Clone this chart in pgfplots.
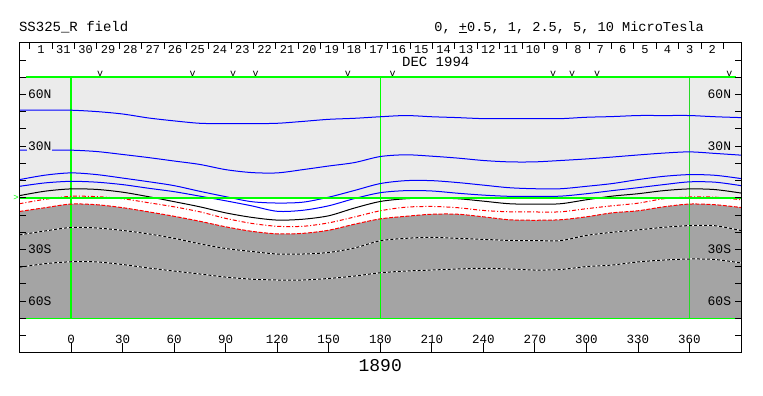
\documentclass[border=0pt]{standalone}
\usepackage{fontspec}
\setmainfont{Liberation Mono}
\usepackage{pgfplots}
\pgfplotsset{compat=1.18}
\usepackage{pgfplotstable}
\usepgfplotslibrary{fillbetween}
\definecolor{lgray}{HTML}{EBEBEB}
\definecolor{dgray}{HTML}{A4A4A4}
\definecolor{grn}{HTML}{00FF00}
\definecolor{blu}{HTML}{0000FF}
\definecolor{rd}{HTML}{FF0000}

\pgfplotstableread{
lon A B C D E F G H I
-30 50.8 27.6 10.5 6.6 1.2 -3.5 -8.0 -21.6 -40.4
-15 50.8 27.6 13.1 8.6 3.8 -0.9 -5.8 -19.3 -38.3
0 50.8 27.6 14.4 9.5 5.1 0.8 -3.7 -17.3 -37.2
15 50.0 26.8 13.4 9.0 4.8 0.6 -4.1 -17.6 -37.3
30 48.6 25.1 11.4 7.6 3.2 -0.6 -5.8 -19.0 -38.8
45 46.3 23.3 9.3 5.5 0.6 -2.9 -8.2 -21.0 -40.8
60 44.6 21.3 7.0 3.5 -2.3 -5.3 -10.8 -23.6 -42.6
75 43.2 19.3 3.7 0.9 -5.3 -8.2 -13.7 -26.8 -44.3
90 43.0 16.3 0.6 -1.8 -8.8 -12.0 -16.9 -29.5 -46.1
105 43.0 14.6 -2.3 -4.7 -11.4 -14.9 -19.5 -31.2 -47.3
120 43.2 14.4 -3.1 -7.9 -13.0 -16.6 -21.0 -32.7 -47.8
135 44.3 16.3 -2.6 -7.3 -12.5 -16.6 -20.7 -32.7 -47.8
150 45.5 18.4 0.3 -4.7 -10.5 -14.6 -18.9 -31.8 -46.9
165 46.1 20.4 4.2 -0.5 -6.0 -11.2 -15.4 -29.2 -45.5
180 47.0 23.9 8.2 2.9 -2.2 -7.6 -12.3 -25.0 -43.6
195 47.7 24.9 9.9 4.1 -0.6 -5.5 -10.8 -23.6 -42.6
210 47.0 24.1 9.9 3.9 -0.2 -5.1 -9.6 -23.0 -42.0
225 46.5 23.0 8.8 2.6 -0.6 -5.8 -9.6 -23.6 -41.4
240 45.9 21.6 7.3 1.5 -2.0 -7.4 -11.1 -24.2 -41.0
255 45.9 20.8 5.8 0.8 -3.5 -8.2 -12.8 -24.8 -41.4
270 45.9 20.8 5.2 0.8 -3.8 -8.3 -13.1 -24.9 -42.0
285 45.9 21.6 5.2 0.9 -3.5 -8.2 -12.8 -24.9 -41.7
300 46.7 22.5 6.6 2.3 -1.2 -6.4 -11.1 -21.9 -40.0
315 47.1 23.6 8.2 4.1 0.9 -4.7 -8.8 -20.1 -39.1
330 47.7 24.8 10.5 5.8 2.3 -3.2 -7.6 -18.7 -37.3
345 47.7 25.9 12.4 7.6 4.1 -0.6 -5.3 -17.2 -36.2
360 47.7 26.6 13.4 9.2 5.1 0.4 -3.7 -16.2 -35.6
375 47.0 25.7 13.0 9.0 4.7 0.3 -4.1 -16.3 -35.9
390 46.5 24.7 11.1 7.0 2.7 -1.2 -5.7 -19.1 -37.9
}\curves

\begin{document}
\begin{tikzpicture}
\begin{axis}[
  name=main,
  scale only axis, width=721.5pt, height=310pt,
  xmin=-30, xmax=390, ymin=-90, ymax=90,
  clip=false, axis on top,
  axis line style={line width=1pt},
  xtick={0,30,...,360}, xtick pos=left,
  ytick={-80,-70,...,80}, yticklabels={},
  tick align=inside,
  major tick length=6pt,
  xtick style={/pgfplots/major tick length=10pt, line width=0.8pt, black},
  ytick style={line width=0.8pt, black},
  /pgf/number format/assume math mode=true,
  xticklabel style={anchor=base, yshift=9.5pt, font=\fontsize{12.5}{14}\selectfont},
]
% backgrounds
\fill[lgray] (axis cs:-30,0) rectangle (axis cs:390,70);
\addplot[draw=none, smooth, name path=G] table[x=lon,y=G]{\curves};
\addplot[draw=none, name path=bot] coordinates {(-30,-70) (390,-70)};
\addplot[dgray] fill between[of=G and bot];

% green reference lines (vertical)
\addplot[grn, line width=1.2pt] coordinates {(0,-70) (0,70)};
\addplot[grn, line width=1.2pt] coordinates {(180,-70) (180,70)};
\addplot[grn!70!gray, line width=0.9pt] coordinates {(360,-70) (360,70)};

% contours
\addplot[blu, line width=1pt, smooth] table[x=lon,y=A]{\curves};
\addplot[blu, line width=1pt, smooth] table[x=lon,y=B]{\curves};
\addplot[blu, line width=1pt, smooth] table[x=lon,y=C]{\curves};
\addplot[blu, line width=1pt, smooth] table[x=lon,y=D]{\curves};
\addplot[black, line width=1pt, smooth] table[x=lon,y=E]{\curves};
\addplot[rd, line width=1pt, smooth, dash pattern=on 4pt off 2pt on 1pt off 2pt] table[x=lon,y=F]{\curves};
\addplot[rd, line width=1pt, smooth, dash pattern=on 4pt off 1.5pt] table[x=lon,y=G]{\curves};
\addplot[white, line width=1pt, smooth] table[x=lon,y=H]{\curves};
\addplot[black, line width=1pt, smooth, dash pattern=on 3pt off 2pt] table[x=lon,y=H]{\curves};
\addplot[white, line width=1pt, smooth] table[x=lon,y=I]{\curves};
\addplot[black, line width=1pt, smooth, dash pattern=on 3pt off 2pt] table[x=lon,y=I]{\curves};

% green reference lines (horizontal)
\addplot[grn, line width=1.8pt] coordinates {(-30,0) (390,0)};
\addplot[grn, line width=1.3pt] coordinates {(-26,70) (387,70)};
\addplot[grn, line width=1.3pt] coordinates {(-26,-70) (387,-70)};

% v marks
\addplot[only marks, mark=text, text mark={\fontsize{10}{10}\selectfont v}]
  coordinates {(17,71.8) (70.8,71.8) (94.4,71.8) (107.5,71.8) (161.1,71.8) (187.2,71.8) (280.7,71.8) (291.7,71.8) (306.2,71.8) (383.2,71.8)};

% latitude labels
\node[fill=lgray, inner sep=0.6pt, font=\fontsize{13}{14}\selectfont] at (axis cs:-18.2,60) {60N};
\node[fill=lgray, inner sep=0.6pt, font=\fontsize{13}{14}\selectfont] at (axis cs:-18.2,30) {30N};
\node[fill=dgray, inner sep=0.6pt, font=\fontsize{13}{14}\selectfont] at (axis cs:-18.2,-30) {30S};
\node[fill=dgray, inner sep=0.6pt, font=\fontsize{13}{14}\selectfont] at (axis cs:-18.2,-60) {60S};
\node[fill=lgray, inner sep=0.6pt, font=\fontsize{13}{14}\selectfont] at (axis cs:377.4,60) {60N};
\node[fill=lgray, inner sep=0.6pt, font=\fontsize{13}{14}\selectfont] at (axis cs:377.4,30) {30N};
\node[fill=dgray, inner sep=0.6pt, font=\fontsize{13}{14}\selectfont] at (axis cs:377.4,-30) {30S};
\node[fill=dgray, inner sep=0.6pt, font=\fontsize{13}{14}\selectfont] at (axis cs:377.4,-60) {60S};
\node[grn, anchor=east, inner sep=0.5pt, font=\fontsize{9}{9}\selectfont] at (axis cs:-30,0) {>};

% day strip
\pgfplotsinvokeforeach{0,...,31}{
  \draw[line width=0.8pt] (axis cs:{-24.03+13.024*#1},90) -- (axis cs:{-24.03+13.024*#1},86.3);
}
\node[anchor=base, font=\fontsize{12}{14}\selectfont] at (axis cs:-17.52,83.7) {1};
\pgfplotsinvokeforeach{1,...,30}{
  \node[anchor=base, font=\fontsize{12}{14}\selectfont] at (axis cs:{-17.52+13.024*#1},83.7) {\pgfmathtruncatemacro\dd{32-#1}\dd};
}
\node[anchor=base, font=\fontsize{14}{16}\selectfont] at (axis cs:212.3,76.3) {DEC 1994};

% titles
\node[anchor=base west, font=\fontsize{14}{16}\selectfont] at (axis cs:-32.3,96.7) {SS325\_R field};
\node[anchor=base west, font=\fontsize{13.6}{16}\selectfont] at (axis cs:209.5,96.7) {0, \underline{+}0.5, 1, 2.5, 5, 10 MicroTesla};
\node[anchor=base, font=\fontsize{18}{20}\selectfont] at (axis cs:180,-90) [yshift=-18.8pt] {1890};
\end{axis}
\pgfresetboundingbox
\path[use as bounding box] (main.south west) ++(-19.5pt,-43.3pt) rectangle ++(763pt,396pt);
\end{tikzpicture}
\end{document}
